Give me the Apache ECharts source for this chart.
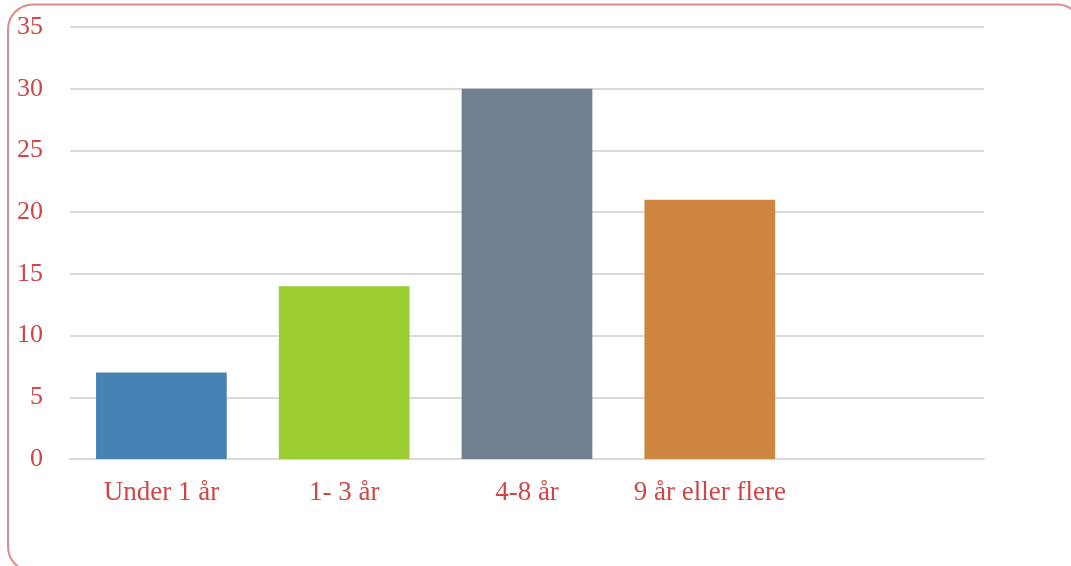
<!DOCTYPE html>
<html><head><meta charset="utf-8">
<script src="https://cdn.jsdelivr.net/npm/echarts@6/dist/echarts.min.js"></script>
<style>html,body{margin:0;padding:0;background:#fff}#c{width:1071px;height:566px}</style>
</head><body><div id="c"></div>
<script>
const categories = ['Under 1 år', '1- 3 år', '4-8 år', '9 år eller flere', ''];
const values = [7, 14, 30, 21, null];
const barColors = ['#4682b4', '#9acd32', '#708090', '#cd853f', '#cccccc'];
const yTicks = [0, 5, 10, 15, 20, 25, 30, 35];

const chart = echarts.init(document.getElementById('c'), null, {renderer: 'canvas'});
chart.setOption({
  animation: false,
  graphic: [{
    type: 'rect', silent: true, z: -1,
    shape: {x: 8, y: 4.5, width: 1074, height: 567, r: 25},
    style: {fill: 'none', stroke: '#dd8a8a', lineWidth: 2}
  }],
  grid: {left: 70, right: 87, top: 27, bottom: 107, containLabel: false},
  xAxis: {
    type: 'category', data: categories,
    axisLine: {show: true, lineStyle: {color: '#d9d9d9', width: 2}},
    axisTick: {show: false},
    axisLabel: {color: '#d04545', fontFamily: 'Liberation Serif', fontSize: 27, margin: 20, interval: 0, hideOverlap: false}
  },
  yAxis: {
    type: 'value', min: yTicks[0], max: yTicks[yTicks.length - 1], interval: 5,
    axisLine: {show: false}, axisTick: {show: false},
    axisLabel: {color: '#d04545', fontFamily: 'Liberation Serif', fontSize: 26, margin: 27, formatter: v => String(v)},
    splitLine: {lineStyle: {color: '#d9d9d9', width: 2}}
  },
  series: [{
    type: 'bar', data: values.map((v, i) => ({value: v, itemStyle: {color: barColors[i]}})),
    barCategoryGap: '28.5%'
  }]
});
</script></body></html>
